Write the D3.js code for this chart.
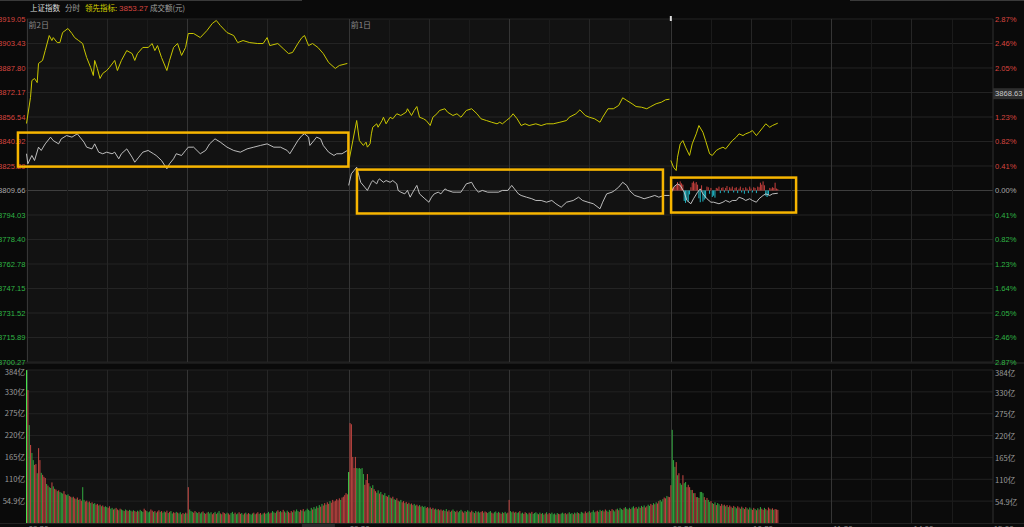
<!DOCTYPE html>
<html>
<head>
<meta charset="utf-8">
<script src="https://cdn.jsdelivr.net/npm/d3@7"></script>
<style>
body { margin: 0; background: #0a0a0a; overflow: hidden; }
svg { display: block; }
</style>
</head>
<body>
<div id="chart"></div>
<script>
// ---------- data ----------
var prevClose = 3809.66
var minutesPerDay = 241
var dayLabels = ["前2日", "前1日"]

var priceTicks = [3919.05, 3903.43, 3887.80, 3872.17, 3856.54, 3840.92, 3825.29, 3809.66,
                  3794.03, 3778.40, 3762.78, 3747.15, 3731.52, 3715.89, 3700.27]
var priceTickLabels = ["3919.05", "3903.43", "3887.80", "3872.17", "3856.54", "3840.92", "3825.29", "3809.66",
                       "3794.03", "3778.40", "3762.78", "3747.15", "3731.52", "3715.89", "3700.27"]
var pctTickLabels = ["2.87%", "2.46%", "2.05%", "1.64%", "1.23%", "0.82%", "0.41%", "0.00%",
                     "0.41%", "0.82%", "1.23%", "1.64%", "2.05%", "2.46%", "2.87%"]
var volTicks = [54.9, 109.8, 164.7, 219.6, 274.5, 329.4, 384.3]
var volTickLabels = ["54.9亿", "110亿", "165亿", "220亿", "275亿", "330亿", "384亿"]
var timeLabels = ["09:30", "10:30", "11:30", "14:00", "15:00"]
var leadValue = "3853.27"
var cursorPrice = 3871.4
var cursorValue = "3868.63"
var cursorTime = "14:27"

// leading indicator (yellow) [minute, price]
var lead1 = [[0,3852.4],[3,3869.0],[4,3879.8],[6,3881.1],[8,3878.5],[9,3890.7],[12,3892.6],[14,3898.9],[17,3908.5],[19,3905.3],[20,3907.2],[23,3904.0],[25,3904.0],[27,3910.4],[31,3913.0],[34,3909.8],[36,3907.2],[39,3905.3],[42,3903.4],[43,3900.2],[45,3894.5],[48,3888.1],[50,3883.0],[51,3892.6],[53,3887.5],[55,3881.1],[57,3884.3],[60,3886.2],[62,3888.1],[66,3892.6],[68,3886.2],[71,3892.6],[75,3898.9],[79,3897.0],[81,3892.6],[83,3897.0],[87,3900.9],[91,3900.9],[94,3903.4],[96,3898.9],[98,3902.1],[101,3894.5],[105,3886.2],[107,3892.6],[110,3900.9],[113,3903.4],[116,3895.8],[119,3900.9],[121,3909.8],[125,3909.8],[130,3907.2],[135,3911.7],[139,3916.2],[142,3918.1],[145,3914.9],[150,3910.4],[155,3908.5],[158,3904.0],[162,3905.3],[167,3904.0],[173,3903.4],[177,3903.4],[180,3907.2],[182,3902.1],[188,3903.4],[192,3900.2],[196,3897.0],[199,3897.7],[203,3903.4],[206,3907.2],[208,3908.5],[211,3902.1],[214,3903.4],[218,3900.9],[222,3897.0],[226,3891.3],[231,3887.5],[234,3889.4],[240,3890.7]]
var lead2 = [[0,3827.5],[6,3854.3],[8,3841.5],[11,3838.4],[13,3840.5],[14,3837.3],[16,3839.4],[17,3845.8],[18,3850.0],[21,3852.2],[22,3850.0],[25,3854.3],[26,3856.4],[28,3852.2],[31,3856.4],[33,3855.4],[36,3858.6],[39,3857.5],[43,3859.6],[44,3861.8],[47,3857.5],[49,3860.7],[51,3863.2],[53,3856.4],[56,3855.4],[58,3854.3],[61,3851.1],[63,3856.4],[66,3858.6],[68,3860.7],[72,3861.8],[74,3859.6],[78,3857.5],[81,3858.6],[84,3856.4],[88,3860.7],[92,3861.8],[96,3858.6],[99,3855.4],[103,3854.3],[107,3853.2],[111,3852.2],[113,3853.2],[115,3852.2],[118,3854.3],[121,3856.4],[123,3858.6],[126,3855.4],[129,3851.1],[132,3852.2],[135,3851.1],[140,3852.2],[144,3851.1],[148,3852.2],[153,3852.2],[158,3853.2],[163,3854.3],[165,3856.4],[170,3858.6],[173,3861.1],[177,3857.5],[180,3856.4],[184,3855.4],[188,3853.2],[190,3856.4],[194,3861.8],[198,3861.8],[202,3863.9],[205,3868.8],[208,3867.1],[212,3865.0],[215,3863.2],[219,3862.8],[223,3861.8],[226,3863.2],[230,3865.0],[234,3866.0],[237,3867.5],[240,3867.9]]
var lead3 = [[0,3828.8],[2,3824.5],[4,3822.4],[5,3830.9],[7,3839.4],[9,3841.5],[11,3837.3],[14,3832.0],[16,3839.4],[19,3845.8],[21,3851.1],[24,3846.8],[26,3841.5],[29,3833.1],[31,3832.0],[34,3835.2],[36,3836.2],[39,3837.3],[41,3836.2],[44,3839.4],[46,3841.5],[49,3843.7],[51,3845.8],[54,3844.7],[56,3845.8],[59,3846.8],[61,3847.9],[64,3844.7],[66,3846.8],[69,3850.0],[71,3852.2],[74,3850.0],[76,3851.1],[80,3852.6]]

// index (white) [minute, price]
var index1 = [[0,3833.1],[1,3826.7],[4,3832.0],[6,3828.8],[9,3837.3],[11,3835.2],[14,3839.4],[18,3843.7],[20,3841.5],[24,3839.4],[26,3842.6],[30,3844.7],[34,3843.7],[38,3845.8],[40,3843.7],[43,3840.5],[45,3837.3],[49,3836.2],[51,3839.4],[54,3834.1],[57,3833.1],[60,3834.1],[64,3833.1],[66,3834.1],[69,3829.9],[71,3833.1],[75,3836.2],[79,3830.9],[81,3827.7],[84,3830.9],[87,3834.1],[91,3835.2],[95,3833.1],[97,3832.0],[101,3828.8],[105,3823.5],[107,3826.7],[110,3829.9],[112,3833.1],[116,3832.0],[119,3835.2],[121,3837.3],[125,3837.3],[130,3833.1],[134,3835.2],[137,3839.4],[141,3842.6],[145,3840.5],[150,3837.3],[155,3835.2],[160,3834.1],[165,3836.2],[170,3837.3],[175,3838.4],[180,3839.4],[185,3837.3],[190,3837.3],[195,3835.2],[197,3833.1],[200,3837.3],[203,3841.5],[206,3844.7],[208,3845.8],[211,3843.7],[212,3838.4],[215,3841.5],[217,3843.7],[220,3842.6],[222,3838.4],[226,3834.1],[230,3832.0],[232,3833.1],[236,3833.1],[240,3835.2]]
var index2 = [[0,3812.9],[2,3820.3],[4,3822.4],[6,3824.5],[8,3818.1],[9,3814.9],[12,3811.8],[14,3809.7],[17,3814.9],[18,3816.0],[21,3813.9],[22,3816.0],[23,3817.1],[26,3814.9],[28,3816.0],[31,3814.9],[33,3816.0],[36,3813.9],[37,3809.7],[39,3808.6],[42,3807.5],[44,3809.7],[46,3805.4],[48,3808.6],[51,3812.9],[53,3807.5],[57,3804.4],[60,3802.2],[62,3805.4],[64,3807.5],[67,3808.6],[69,3807.5],[72,3810.7],[74,3809.7],[78,3808.6],[81,3808.6],[84,3808.6],[88,3813.9],[92,3814.9],[94,3811.8],[97,3808.6],[100,3809.7],[104,3808.6],[108,3808.6],[112,3808.6],[115,3809.7],[119,3809.7],[122,3812.9],[124,3810.7],[127,3807.5],[129,3806.5],[133,3805.4],[137,3804.4],[140,3803.3],[144,3803.3],[148,3802.2],[152,3803.3],[155,3801.2],[159,3799.0],[163,3802.2],[168,3803.3],[172,3805.4],[175,3803.3],[179,3802.2],[183,3801.2],[188,3798.0],[190,3802.2],[193,3807.5],[197,3808.6],[199,3809.7],[202,3811.8],[205,3814.9],[208,3812.9],[210,3809.7],[214,3806.5],[218,3805.4],[221,3804.4],[225,3805.4],[229,3806.5],[232,3805.4],[236,3806.5],[240,3806.5]]
var index3 = [[0,3807.5],[2,3811.8],[5,3813.9],[7,3812.9],[10,3808.6],[12,3803.3],[15,3801.2],[17,3804.4],[20,3808.6],[22,3810.7],[24,3807.5],[27,3804.4],[30,3802.2],[32,3802.2],[36,3801.2],[39,3802.2],[41,3803.3],[44,3802.2],[46,3803.3],[49,3803.3],[51,3805.4],[54,3804.4],[56,3803.3],[59,3804.4],[61,3803.3],[64,3802.2],[66,3804.4],[69,3806.5],[71,3807.5],[74,3806.5],[76,3807.5],[80,3807.9]]

// today's buy/sell strength per minute (red up, cyan down)
var strength3 = [10,15,20,30,40,65,50,70,55,45,-80,-95,-70,-85,-30,25,60,70,55,65,
                 45,-60,-90,40,-85,-70,-60,30,25,-25,20,-50,-40,-55,20,15,30,-20,20,25,
                 -15,20,35,-20,25,15,30,-15,20,25,-20,15,30,-15,20,-25,25,15,-20,30,
                 15,-15,25,20,-20,30,25,60,45,70,40,-40,-50,-35,20,15,25,20,60,15,10]

// turnover per minute (亿)
var vol1 = [384,334,246,196,176,158,146,148,125,188, 158,126,121,116,113,98,94,90,88,102,
            92,86,84,80,82,78,76,74,80,72, 70,72,68,66,64,66,62,60,64,58,
            60,56,90,58,54,56,52,54,50,52, 48,50,46,48,44,46,42,44,40,42,
            40,38,42,36,38,34,36,38,34,32, 36,34,32,30,34,32,30,33,31,29,
            32,30,28,31,29,33,30,28,36,32, 30,27,29,34,31,28,30,26,29,32,
            28,30,26,29,27,31,25,28,30,24, 27,25,28,26,24,27,22,25,23,26,
            24,90,34,30,28,26,30,27,25,28, 24,27,29,25,23,26,28,24,27,22,
            25,28,23,26,30,24,22,27,25,23, 26,24,21,25,28,23,26,22,24,27,
            23,25,21,24,26,22,25,23,21,24, 26,22,24,27,23,25,21,24,26,23,
            25,28,24,26,30,27,25,29,32,28, 30,27,33,29,26,31,28,25,30,27,
            32,29,34,30,28,33,31,35,29,32, 36,33,30,38,34,40,36,42,38,45,
            41,48,44,50,46,52,48,55,51,58, 54,56,60,57,62,58,64,66,70,75, 72]
var vol2 = [128,251,248,166,138,166,138,137,138,136, 138,123,96,108,123,100,92,88,95,85,
            80,76,82,74,78,72,70,75,68,66, 70,64,62,66,60,58,62,56,54,58,
            52,55,50,53,48,51,47,49,45,48, 44,46,42,45,41,43,40,42,38,40,
            37,39,35,38,34,36,33,35,32,34, 31,33,30,35,29,32,28,31,34,30,
            28,31,27,30,33,29,26,30,28,32, 29,27,31,28,25,30,27,29,26,28,
            30,26,29,27,25,28,30,26,24,27, 29,25,28,26,23,27,25,28,24,26,
            58,30,27,29,26,28,25,27,30,24, 26,23,27,25,22,26,24,28,23,25,
            27,24,22,26,23,25,21,24,27,22, 25,23,26,22,24,21,25,23,22,24,
            26,23,25,22,24,27,23,25,22,26, 24,27,25,23,28,26,24,29,25,27,
            30,26,28,32,27,29,31,28,33,30, 32,29,34,31,28,33,30,35,32,29,
            34,36,32,38,35,33,37,40,36,34, 38,35,39,42,37,40,36,41,38,43,
            40,44,39,42,46,43,48,45,50,47, 52,49,55,58,54,60,64,62,68,66, 65]
var vol3 = [95,234,158,141,153,120,125,100,96,120, 100,103,90,96,90,83,83,75,75,65,
            65,63,78,78,75,65,58,63,58,53, 55,50,48,52,45,50,47,43,48,44,
            46,42,45,40,44,41,38,43,40,37, 42,39,36,41,38,35,40,37,34,39,
            36,33,38,35,32,37,34,40,36,33, 38,35,32,39,36,34,37,33,35,34, 33]

// r = up minute (red), g = down minute (green)
var dir1 = "grgrggrrgr" + "rgrrrgrggr" + "grrgrgggrr" + "ggrrgrrgrg" + "rrggrrgrgr" + "ggrrgrgrrg" +
           "grrggrgrrg" + "rggrgrrggr" + "grrgrgggrr" + "gggrrgrgrr" + "grggrrgrgg" + "rrgrggrrgr" +
           "grgggrrggr" + "ggrgrrgggr" + "rgrggrgrrg" + "grrgggrggr" + "rggrgrrggg" + "rgrrgrggrg" +
           "ggrrggrgrr" + "grrgrgrrrg" + "rgggrrgrgg" + "ggggrgggrg" + "rgrrgrrgrr" + "rrrrrgrrrr" + "r"
var dir2 = "grrrrrgggg" + "ggrrrrgrgr" + "rggrgrggrr" + "grgrggrrgg" + "rrgrgrgrrg" + "grrgrgggrr" +
           "grgrrggrgr" + "rgrgrrgrgg" + "rrgggrrgrg" + "grrgrgrggr" + "rgrrgggrrg" + "grgrrgrggr" +
           "rggrgrggrg" + "grrggrgrgg" + "ggrgrggrgr" + "rggggrgrrg" + "ggrgrgggrg" + "rgrgggrrgr" +
           "grgggrrggr" + "grrgrgrrgg" + "rgrgggrggr" + "grggrrggrg" + "rgrrggrrgr" + "grrgggrrgr" + "r"
var dir3 = "rgggrgrggr" + "ggrrrgrgrr" + "grgggrgrgg" + "rgrgrggrrg" + "rgrgrrgrgg" + "rrgrgrrgrg" +
           "grrgrgrgrr" + "grgrrgrgrr" + "r"

// highlight boxes: [from minute index, to minute index, top price, bottom price]
var boxes = [[-6.4, 240.8, 3846.6, 3824.9], [247.2, 476.1, 3823.0, 3795.0], [482.2, 575.7, 3817.9, 3795.6]]

// ---------- layout ----------
var W = 1024, H = 527
var plotL = 26.5, plotR = 993
var priceTop = 19, priceBot = 362, volTop = 370, volBot = 523
var red = "#d8453f", green = "#2fb545", grey = "#a8a8a8"
var numFont = "'Liberation Sans', Arial, sans-serif"
var cjkFont = "'Noto Sans CJK SC', 'Liberation Sans', sans-serif"

var svg = d3.select("#chart").append("svg")
    .attr("width", W).attr("height", H)

var x = d3.scaleLinear().domain([0, 3 * minutesPerDay]).range([plotL, plotR])
var y = d3.scaleLinear().domain([3700.27, 3919.05]).range([priceBot, priceTop])
var yv = d3.scaleLinear().domain([0, 384.3]).range([volBot, volTop])
var ys = d3.scaleLinear().domain([0, 100]).range([0, 13])

// backgrounds: past days lighter, today darker
svg.append("rect").attr("width", W).attr("height", H).style("fill", "#0a0a0a")
var todayX = x(2 * minutesPerDay)
;[[priceTop, priceBot], [volTop, volBot]].forEach(function(p){
    svg.append("rect").attr("x", plotL).attr("y", p[0]).attr("width", todayX - plotL)
        .attr("height", p[1] - p[0]).style("fill", "#121212")
    svg.append("rect").attr("x", todayX).attr("y", p[0]).attr("width", plotR - todayX)
        .attr("height", p[1] - p[0]).style("fill", "#0b0b0b")
})

// horizontal grid
var grid = svg.append("g")
priceTicks.forEach(function(v){
    grid.append("line").attr("x1", plotL).attr("x2", plotR).attr("y1", y(v)).attr("y2", y(v))
        .style("stroke", v == prevClose ? "#3e3e3e" : "#242424").style("stroke-width", 1)
})
volTicks.forEach(function(v){
    grid.append("line").attr("x1", plotL).attr("x2", plotR).attr("y1", yv(v)).attr("y2", yv(v))
        .style("stroke", "#222").style("stroke-width", 1)
})

// vertical grid every 30 minutes
for (var d = 0; d < 3; d++) {
    for (var k = 0; k < 8; k++) {
        var gx = Math.round(x(d * minutesPerDay + k * 30)) + 0.5
        var col = (k == 0 || k == 4) ? "#353535" : (k % 2 == 0 ? "#262626" : "#1b1b1b")
        ;[[priceTop, priceBot], [volTop, volBot]].forEach(function(p){
            grid.append("line").attr("x1", gx).attr("x2", gx).attr("y1", p[0]).attr("y2", p[1])
                .style("stroke", col).style("stroke-width", 1)
        })
    }
}
;[[priceTop, priceBot], [volTop, volBot]].forEach(function(p){
    grid.append("line").attr("x1", plotR).attr("x2", plotR).attr("y1", p[0]).attr("y2", p[1])
        .style("stroke", "#303030")
})
// panel separators
grid.append("line").attr("x1", 0).attr("x2", W).attr("y1", priceBot + 1).attr("y2", priceBot + 1).style("stroke", "#2a2a2a")
grid.append("line").attr("x1", 0).attr("x2", W).attr("y1", volBot + 0.5).attr("y2", volBot + 0.5).style("stroke", "#222")

// axis labels
var labels = svg.append("g").style("font-family", numFont).style("font-size", "7.6px")
priceTicks.forEach(function(v, i){
    var c = v > prevClose ? red : (v < prevClose ? green : grey)
    labels.append("text").attr("x", 25.5).attr("y", y(v)).attr("dy", "0.35em")
        .attr("text-anchor", "end").style("fill", c).text(priceTickLabels[i])
    // the upper 1.64% label sits under the cursor value box
    if (Math.abs(y(v) - y(cursorPrice)) > 4) {
        labels.append("text").attr("x", 995).attr("y", y(v)).attr("dy", "0.35em")
            .style("fill", c).text(pctTickLabels[i])
    }
})
volTicks.forEach(function(v, i){
    var off = i == volTicks.length - 1 ? 2 : 0
    labels.append("text").attr("x", 25).attr("y", yv(v) + off).attr("dy", "0.35em")
        .attr("text-anchor", "end").style("fill", "#9a9a9a").style("font-family", cjkFont).text(volTickLabels[i])
    labels.append("text").attr("x", 995).attr("y", yv(v) + 1 + off).attr("dy", "0.35em")
        .style("fill", "#9a9a9a").style("font-family", cjkFont).text(volTickLabels[i])
})

// cursor value box on the right axis
svg.append("rect").attr("x", plotR).attr("y", y(cursorPrice) - 5.5).attr("width", W - plotR).attr("height", 11)
    .style("fill", "#2e2e2e")
svg.append("text").attr("x", 995).attr("y", y(cursorPrice)).attr("dy", "0.35em")
    .style("font-family", numFont).style("font-size", "7.6px").style("fill", "#c8c8c8").text(cursorValue)

// time labels at the bottom (mostly cut off by the window)
var tl = svg.append("g").style("font-family", numFont).style("font-size", "8px").style("fill", "#8a8a8a")
tl.append("text").attr("x", x(0) + 2).attr("y", 530.5).text(timeLabels[0])
tl.append("text").attr("x", x(minutesPerDay) + 1).attr("y", 530.5).text(timeLabels[0])
svg.append("rect").attr("x", x(206)).attr("y", 524).attr("width", 33).attr("height", 6).style("fill", "#2a2a2a")
tl.append("text").attr("x", x(206) + 8).attr("y", 530.5).text(cursorTime)
for (var k = 0; k < 5; k++) {
    tl.append("text").attr("x", x(2 * minutesPerDay + k * 60) + 2).attr("y", 530.5).text(timeLabels[k])
}

// volume bars
var bars = svg.append("g")
;[[vol1, dir1], [vol2, dir2], [vol3, dir3]].forEach(function(s, d){
    bars.selectAll(null).data(s[0]).enter().append("rect")
        .attr("x", function(v, m){ return x(d * minutesPerDay + m) - 0.5 })
        .attr("y", function(v){ return yv(v) })
        .attr("width", 1.1)
        .attr("height", function(v){ return volBot - yv(v) })
        .style("fill", function(v, m){
            if (s[1][m] == "r") return "#b8433f"
            return m == 0 ? "#46e04e" : "#2f9c3c"
        })
})

// today's strength bars around the previous close line
var sb = svg.append("g")
sb.selectAll(null).data(strength3).enter().append("rect")
    .attr("x", function(v, m){ return x(2 * minutesPerDay + m) - 0.5 })
    .attr("y", function(v){ return v > 0 ? y(prevClose) - ys(v) : y(prevClose) })
    .attr("width", 1)
    .attr("height", function(v){ return ys(Math.abs(v)) })
    .style("fill", function(v){ return v > 0 ? "#c8403d" : "#22b9c9" })

// price lines
var line = d3.line()
    .x(function(p){ return x(p[0]) })
    .y(function(p){ return y(p[1]) })
var lines = svg.append("g").style("fill", "none")
;[lead1, lead2, lead3].forEach(function(s, d){
    lines.append("path")
        .attr("d", line(s.map(function(p){ return [p[0] + d * minutesPerDay, p[1]] })))
        .style("stroke", "#c9c700").style("stroke-width", 1)
})
;[index1, index2, index3].forEach(function(s, d){
    lines.append("path")
        .attr("d", line(s.map(function(p){ return [p[0] + d * minutesPerDay, p[1]] })))
        .style("stroke", "#cfcfcf").style("stroke-width", 0.9)
})

// highlight boxes
boxes.forEach(function(b){
    svg.append("rect")
        .attr("x", x(b[0])).attr("y", y(b[2]))
        .attr("width", x(b[1]) - x(b[0])).attr("height", y(b[3]) - y(b[2]))
        .style("fill", "none").style("stroke", "#f7b500").style("stroke-width", 2.5)
})

// day labels
dayLabels.forEach(function(t, d){
    svg.append("text").attr("x", x(d * minutesPerDay) + 2).attr("y", 28)
        .style("font-family", cjkFont).style("font-size", "8px").style("fill", "#8a8a8a").text(t)
})

// header
svg.append("rect").attr("x", 0).attr("y", 0).attr("width", 302).attr("height", 1).style("fill", "#3a3a3a")
svg.append("rect").attr("x", 850).attr("y", 0).attr("width", W - 850).attr("height", 1).style("fill", "#3a3a3a")
var head = svg.append("g").style("font-family", cjkFont).style("font-size", "7.5px")
head.append("text").attr("x", 30).attr("y", 11).style("fill", "#dcdcdc").text("上证指数")
head.append("text").attr("x", 65).attr("y", 11).style("fill", "#a0a0a0").text("分时")
head.append("text").attr("x", 85).attr("y", 11).style("fill", "#d6d200").text("领先指标:")
head.append("text").attr("x", 119).attr("y", 11).style("fill", red).style("font-family", numFont)
    .style("font-size", "8px").text(leadValue)
head.append("text").attr("x", 150).attr("y", 11).style("fill", "#a0a0a0").text("成交额(元)")

// little drag handle above today's start
svg.append("rect").attr("x", todayX - 1).attr("y", 16).attr("width", 2).attr("height", 5).style("fill", "#dcdcdc")
</script>
</body>
</html>
